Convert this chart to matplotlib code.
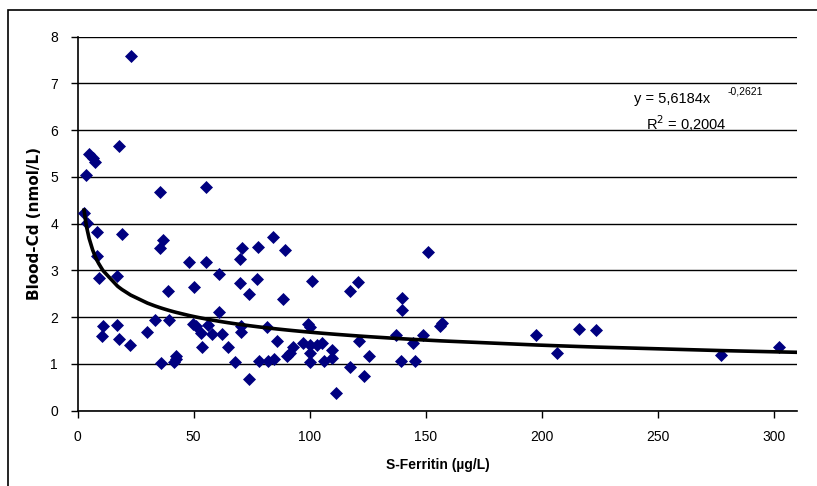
import matplotlib
matplotlib.use("Agg")
import matplotlib.pyplot as plt
import numpy as np
from matplotlib.patches import Rectangle

plt.rcParams["font.family"] = ["Liberation Sans", "DejaVu Sans"]

# S-Ferritin (ug/L) and Blood-Cd (nmol/L)
ferritin = [2.8, 4.0, 3.7, 5.0, 6.5, 7.4, 8.3, 8.3, 9.1, 17.2, 17.8, 19.1,
            22.9, 11.1, 10.6, 17.2, 17.8, 22.8, 30.1, 33.3, 35.3, 35.3, 37.0,
            39.0, 39.6, 36.1, 41.6, 42.5, 42.5, 47.9, 49.7, 50.2, 50.8, 53.1,
            53.7, 55.4, 55.4, 56.0, 57.7, 62.0, 61.1, 61.1, 64.9, 67.9, 70.1,
            70.8, 70.1, 70.6, 70.6, 73.8, 73.8, 77.5, 77.4, 78.1, 81.6, 81.8,
            84.0, 84.4, 85.9, 88.5, 89.3, 90.2, 91.3, 92.8, 97.1, 99.1, 100.3,
            100.3, 100.3, 100.3, 101.0, 103.1, 105.4, 106.0, 109.7, 109.7,
            111.5, 117.2, 117.2, 120.9, 121.0, 123.2, 125.3, 137.0, 139.4,
            139.9, 139.9, 144.5, 145.1, 148.8, 151.1, 156.0, 156.8, 197.6,
            206.3, 216.0, 223.3, 277.0, 302.2]
blood_cd = [4.22, 4.02, 5.04, 5.49, 5.40, 5.33, 3.83, 3.31, 2.84, 2.88, 5.66,
            3.77, 7.59, 1.81, 1.60, 1.83, 1.54, 1.40, 1.68, 1.94, 4.68, 3.47,
            3.65, 2.57, 1.94, 1.03, 1.04, 1.10, 1.16, 3.18, 1.85, 2.65, 1.81,
            1.67, 1.36, 4.78, 3.18, 1.84, 1.64, 1.65, 2.12, 2.92, 1.36, 1.04,
            3.25, 3.47, 2.74, 1.81, 1.69, 2.50, 0.67, 3.50, 2.82, 1.07, 1.80,
            1.07, 3.72, 1.11, 1.50, 2.38, 3.44, 1.16, 1.23, 1.37, 1.44, 1.85,
            1.80, 1.41, 1.23, 1.05, 2.78, 1.40, 1.44, 1.06, 1.30, 1.13, 0.37,
            2.55, 0.93, 2.75, 1.50, 0.74, 1.18, 1.61, 1.07, 2.41, 2.15, 1.45,
            1.07, 1.61, 3.39, 1.82, 1.88, 1.61, 1.24, 1.75, 1.73, 1.20, 1.36]

# power trendline y = a * x^b as given on the chart
coef_a = 5.6184
coef_b = -0.2621
r_squared = 0.2004
trend_end = 310

fig = plt.figure(figsize=(8.17, 4.86), dpi=100)
ax = fig.add_axes([0.0949, 0.1549, 0.8812, 0.7696])

ax.scatter(ferritin, blood_cd, marker="D", s=44, color="#000080",
           linewidths=0, zorder=3)

# Excel joins the trendline through the sorted x values
x_trend = np.array(sorted(set(ferritin)) + [trend_end])
ax.plot(x_trend, coef_a * x_trend ** coef_b, color="black", lw=2.6,
        solid_joinstyle="round", zorder=4)

ax.set_xlim(0, 310)
ax.set_ylim(0, 8)
ax.set_xticks(range(0, 301, 50))
ax.set_yticks(range(0, 9))
ax.yaxis.grid(True, color="black", lw=1)
ax.set_axisbelow(True)
for side in ("top", "right"):
    ax.spines[side].set_visible(False)
for side in ("left", "bottom"):
    ax.spines[side].set_linewidth(1.2)
ax.tick_params(direction="out", length=5, width=1, labelsize=10, pad=9)

ax.set_xlabel("S-Ferritin (µg/L)", fontsize=10, fontweight="bold", labelpad=10)
ax.set_ylabel("Blood-Cd (nmol/L)", fontsize=11, fontweight="bold",
              family="DejaVu Sans", labelpad=6)

eq_texts = [
    (672, 99, "y = 5,6184x", 10.5),
    (745, 91, "-0,2621", 7.5),
    (686, 124, "R$^2$ = 0,2004", 10.5),
]
for px, py, s, fs in eq_texts:
    fig.text(px / 817, 1 - py / 486, s, fontsize=fs, ha="center", va="center")

fig.patches.append(Rectangle((7.5 / 817, -0.1), 1.2, 1.1 - 10 / 486,
                             transform=fig.transFigure, fill=False,
                             edgecolor="black", lw=1.2))

fig.savefig("out.png", dpi=100)
